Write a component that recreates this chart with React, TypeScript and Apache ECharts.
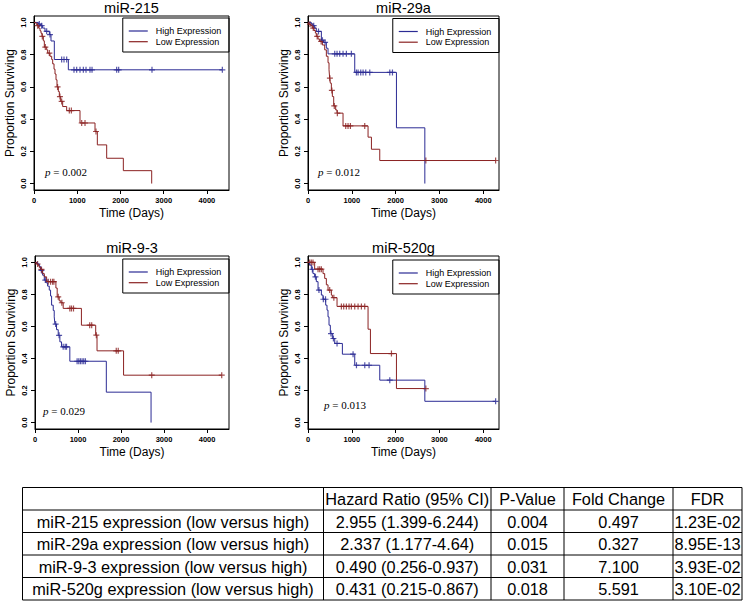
import React, { useEffect, useRef } from 'react';
import * as echarts from 'echarts';

const panelTitles = ['miR-215', 'miR-29a', 'miR-9-3', 'miR-520g'];
const pValueLabels = ['0.002', '0.012', '0.029', '0.013'];
const groupNames = ['High Expression', 'Low Expression'];
const xTickValues = [0, 1000, 2000, 3000, 4000];
const yTickValues = [0, 0.2, 0.4, 0.6, 0.8, 1.0];

// Kaplan-Meier steps: [time (days), survival after the event]
const mir215HighSteps = [[0, 1], [100, 0.99], [154, 0.98], [200, 0.965], [254, 0.945], [355, 0.925], [393, 0.885], [470, 0.77], [794, 0.706]];
const mir215HighCensor = [123, 177, 293, 370, 640, 694, 756, 925, 987, 1064, 1141, 1203, 1295, 1342, 1912, 1958, 2729, 4356];
const mir215LowSteps = [[0, 1], [46, 0.99], [77, 0.98], [108, 0.965], [139, 0.948], [162, 0.933], [185, 0.913], [216, 0.886], [239, 0.847], [293, 0.83], [316, 0.81], [370, 0.79], [409, 0.77], [432, 0.743], [463, 0.71], [486, 0.68], [509, 0.644], [532, 0.6], [563, 0.571], [586, 0.54], [617, 0.51], [663, 0.478], [756, 0.453], [1064, 0.376], [1411, 0.323], [1465, 0.24], [1681, 0.157], [2066, 0.08], [2722, 0]];
const mir215LowCensor = [85, 193, 262, 355, 545, 600, 640, 817, 864, 1103, 1180, 1434];

const mir29aHighSteps = [[0, 1], [76, 0.99], [114, 0.98], [152, 0.965], [190, 0.944], [305, 0.89], [358, 0.876], [419, 0.84], [457, 0.805], [1067, 0.69], [2019, 0.346], [2667, 0]];
const mir29aHighCensor = [130, 240, 330, 390, 610, 663, 724, 800, 876, 990, 1105, 1143, 1204, 1257, 1318, 1410, 1867, 1928];
const mir29aLowSteps = [[0, 1], [23, 0.99], [61, 0.98], [99, 0.965], [137, 0.95], [168, 0.934], [190, 0.913], [229, 0.897], [267, 0.882], [328, 0.86], [381, 0.83], [419, 0.79], [457, 0.75], [480, 0.706], [495, 0.654], [510, 0.623], [533, 0.578], [556, 0.54], [587, 0.482], [632, 0.457], [663, 0.437], [800, 0.358], [1371, 0.288], [1448, 0.213], [1638, 0.143]];
const mir29aLowCensor = [45, 120, 210, 300, 500, 545, 600, 670, 861, 914, 968, 1295, 2690, 4283];

const mir93HighSteps = [[0, 1], [54, 0.99], [100, 0.975], [131, 0.95], [177, 0.92], [216, 0.89], [254, 0.873], [293, 0.852], [332, 0.827], [362, 0.79], [386, 0.733], [424, 0.7], [447, 0.66], [463, 0.615], [501, 0.58], [540, 0.545], [578, 0.504], [617, 0.473], [810, 0.383], [1658, 0.19], [2698, 0]];
const mir93HighCensor = [150, 240, 480, 560, 655, 702, 733, 979, 1018, 1056, 1095, 1133, 1172];
const mir93LowSteps = [[0, 1], [39, 0.99], [77, 0.98], [100, 0.968], [131, 0.956], [177, 0.93], [216, 0.91], [270, 0.88], [486, 0.84], [516, 0.785], [563, 0.76], [601, 0.748], [655, 0.713], [1079, 0.608], [1411, 0.546], [1442, 0.448], [2059, 0.296]];
const mir93LowCensor = [60, 150, 308, 362, 409, 439, 540, 624, 810, 848, 895, 1272, 1318, 1426, 1889, 1935, 2714, 4341];

const mir520gHighSteps = [[0, 1], [38, 0.983], [76, 0.956], [114, 0.93], [152, 0.91], [190, 0.88], [229, 0.827], [305, 0.796], [343, 0.77], [404, 0.733], [434, 0.702], [457, 0.66], [480, 0.608], [510, 0.556], [556, 0.525], [610, 0.494], [785, 0.427], [1067, 0.358], [1638, 0.265], [2667, 0.133]];
const mir520gHighCensor = [100, 170, 250, 350, 400, 525, 580, 663, 1029, 1106, 1296, 1394, 1867, 4283];
const mir520gLowSteps = [[0, 1], [152, 0.958], [343, 0.93], [381, 0.9], [419, 0.86], [457, 0.827], [533, 0.796], [556, 0.78], [663, 0.725], [1371, 0.583], [1425, 0.431], [2019, 0.2125]];
const mir520gLowCensor = [38, 76, 114, 229, 267, 305, 495, 590, 762, 815, 876, 937, 990, 1067, 1143, 1219, 1295, 1905, 2690];

// Table
const tableHeader = ['', 'Hazard Ratio (95% CI)', 'P-Value', 'Fold Change', 'FDR'];
const tableRowLabels = [
  'miR-215 expression (low versus high)',
  'miR-29a expression (low versus high)',
  'miR-9-3 expression (low versus high)',
  'miR-520g expression (low versus high)',
];
const hazardRatios = ['2.955 (1.399-6.244)', '2.337 (1.177-4.64)', '0.490 (0.256-0.937)', '0.431 (0.215-0.867)'];
const tablePValues = ['0.004', '0.015', '0.031', '0.018'];
const foldChanges = ['0.497', '0.327', '7.100', '5.591'];
const fdrValues = ['1.23E-02', '8.95E-13', '3.93E-02', '3.10E-02'];

const panelData = [
  [[mir215HighSteps, mir215HighCensor], [mir215LowSteps, mir215LowCensor]],
  [[mir29aHighSteps, mir29aHighCensor], [mir29aLowSteps, mir29aLowCensor]],
  [[mir93HighSteps, mir93HighCensor], [mir93LowSteps, mir93LowCensor]],
  [[mir520gHighSteps, mir520gHighCensor], [mir520gLowSteps, mir520gLowCensor]],
];

// Layout
const W = 750;
const H = 607;
const grids = [
  { left: 34, top: 16, width: 195, height: 174 },
  { left: 308, top: 16, width: 191, height: 174 },
  { left: 35, top: 256, width: 194, height: 173 },
  { left: 308, top: 256, width: 191, height: 173 },
];
const xMaxes = [4510, 4360, 4510, 4360];
const legendTops = [18, 18.5, 259, 260];
const pTextPos = [[45, 172], [318, 172], [43, 411], [324, 405]];
const colors = ['#2b2b94', '#8b2222'];
const SANS = 'Liberation Sans, Arial, Helvetica, sans-serif';
const SERIF = 'Liberation Serif, Times New Roman, serif';
const PLUS = 'path://M4,0H6V4H10V6H6V10H4V6H0V4H4Z';

const tableTop = 487.5;
const rowH = 22.5;
const colX = [22.5, 323.5, 491, 564, 673, 742];

function survivalAt(steps: number[][], t: number) {
  let s = steps[0][1];
  for (const [ti, si] of steps) {
    if (ti <= t) s = si;
    else break;
  }
  return s;
}

function stepPath(steps: number[][], censor: number[]) {
  const pts: number[][] = [[steps[0][0], steps[0][1]]];
  for (let i = 1; i < steps.length; i++) {
    pts.push([steps[i][0], steps[i - 1][1]]);
    pts.push([steps[i][0], steps[i][1]]);
  }
  const lastT = steps[steps.length - 1][0];
  const maxC = Math.max(...censor);
  if (maxC > lastT) pts.push([maxC, steps[steps.length - 1][1]]);
  return pts;
}

export default function App() {
  const ref = useRef<HTMLDivElement>(null);
  useEffect(() => {
    if (!ref.current) return;
    const chart = echarts.init(ref.current, null, { renderer: 'svg' });

    const series: any[] = [];
    panelData.forEach((groups, i) => {
      groups.forEach(([steps, censor], g) => {
        series.push({
          type: 'line',
          name: groupNames[g],
          xAxisIndex: i,
          yAxisIndex: i,
          data: stepPath(steps as number[][], censor as number[]),
          symbol: 'none',
          showSymbol: false,
          silent: true,
          lineStyle: { color: colors[g], width: 1 },
          itemStyle: { color: colors[g] },
        });
        series.push({
          type: 'scatter',
          name: groupNames[g] + ' (censored)',
          xAxisIndex: i,
          yAxisIndex: i,
          data: (censor as number[]).map((t) => [t, survivalAt(steps as number[][], t)]),
          symbol: PLUS,
          symbolSize: 6,
          silent: true,
          itemStyle: { color: colors[g] },
        });
      });
    });

    const graphic: any[] = [];
    grids.forEach((gr, i) => {
      graphic.push({
        type: 'text',
        x: gr.left + gr.width / 2,
        y: gr.top - 8.5,
        style: { text: panelTitles[i], fontSize: 14.5, fontFamily: SANS, fill: '#000', align: 'center', verticalAlign: 'middle' },
      });
      graphic.push({
        type: 'text',
        x: pTextPos[i][0],
        y: pTextPos[i][1],
        style: {
          text: '{i|p} = ' + pValueLabels[i],
          fontSize: 11,
          fontFamily: SERIF,
          fill: '#000',
          verticalAlign: 'middle',
          rich: { i: { fontStyle: 'italic', fontSize: 11, fontFamily: SERIF, fill: '#000' } },
        },
      });
    });

    // table
    for (let k = 0; k <= 5; k++) {
      graphic.push({
        type: 'line',
        shape: { x1: colX[0], y1: tableTop + k * rowH, x2: colX[5], y2: tableTop + k * rowH },
        style: { stroke: '#000', lineWidth: 1 },
      });
    }
    colX.forEach((x) => {
      graphic.push({
        type: 'line',
        shape: { x1: x, y1: tableTop, x2: x, y2: tableTop + 5 * rowH },
        style: { stroke: '#000', lineWidth: 1 },
      });
    });
    const rows = [tableHeader, ...tableRowLabels.map((l, r) => [l, hazardRatios[r], tablePValues[r], foldChanges[r], fdrValues[r]])];
    rows.forEach((row, r) => {
      row.forEach((txt, c) => {
        if (!txt) return;
        graphic.push({
          type: 'text',
          x: (colX[c] + colX[c + 1]) / 2,
          y: tableTop + r * rowH + rowH / 2 + 0.5,
          style: { text: txt, fontSize: 16.3, fontFamily: SANS, fill: '#000', align: 'center', verticalAlign: 'middle' },
        });
      });
    });

    const option: any = {
      animation: false,
      backgroundColor: '#fff',
      textStyle: { fontFamily: SANS },
      grid: grids.map((g) => ({ ...g, show: true, borderColor: '#000', borderWidth: 1, containLabel: false })),
      xAxis: grids.map((_, i) => ({
        gridIndex: i,
        type: 'value',
        min: 0,
        max: xMaxes[i],
        splitLine: { show: false },
        axisLine: { show: true, onZero: false, lineStyle: { color: '#000', width: 1 } },
        axisTick: { show: true, length: 4, customValues: xTickValues, lineStyle: { color: '#000' } },
        axisLabel: {
          customValues: xTickValues,
          fontSize: 7.5,
          fontWeight: 'bold',
          color: '#000',
          margin: 6,
          formatter: (v: number) => String(v),
        },
        name: 'Time (Days)',
        nameLocation: 'middle',
        nameGap: 17,
        nameTextStyle: { fontSize: 12, color: '#000', fontFamily: SANS },
      })),
      yAxis: grids.map((_, i) => ({
        gridIndex: i,
        type: 'value',
        min: -0.04,
        max: 1.04,
        splitLine: { show: false },
        axisLine: { show: true, onZero: false, lineStyle: { color: '#000', width: 1 } },
        axisTick: { show: true, length: 4, customValues: yTickValues, lineStyle: { color: '#000' } },
        axisLabel: {
          customValues: yTickValues,
          rotate: 90,
          fontSize: 7.5,
          fontWeight: 'bold',
          color: '#000',
          margin: 7,
          formatter: (v: number) => v.toFixed(1),
        },
        name: 'Proportion Surviving',
        nameLocation: 'middle',
        nameGap: 18,
        nameTextStyle: { fontSize: 12, color: '#000', fontFamily: SANS },
      })),
      legend: grids.map((g, i) => ({
        data: groupNames.map((n) => ({ name: n, icon: 'rect' })),
        orient: 'vertical',
        right: W - (g.left + g.width),
        top: legendTops[i],
        borderColor: '#000',
        borderWidth: 1,
        borderRadius: 0,
        padding: [8.5, 7.7, 5.8, 6],
        itemWidth: 19,
        itemHeight: 1.2,
        itemGap: 1.7,
        selectedMode: false,
        itemStyle: { borderWidth: 0 },
        textStyle: { fontSize: 9, color: '#000', lineHeight: 9, padding: [0, 0, 0, 3], fontFamily: SANS },
      })),
      series,
      graphic,
    };
    chart.setOption(option);
    return () => chart.dispose();
  }, []);
  return <div ref={ref} style={{ position: 'absolute', left: 0, top: 0, width: W, height: H }} />;
}
